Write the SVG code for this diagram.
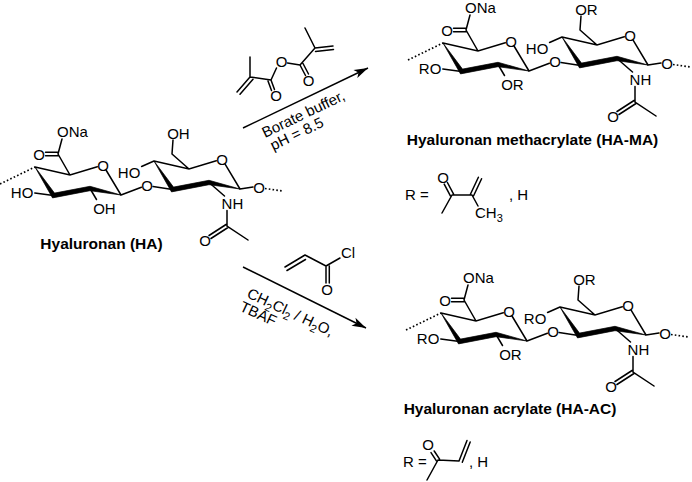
<svg xmlns="http://www.w3.org/2000/svg" width="692" height="482" viewBox="0 0 692 482">
<style>
.b{stroke:#000;stroke-width:1.5;fill:none;stroke-linecap:round}
.a{stroke:#000;stroke-width:1.5;fill:none}
.dot{stroke:#000;stroke-width:1.7;fill:none;stroke-dasharray:1.6 2.2}
.w{fill:#000;stroke:#000;stroke-width:0.7;stroke-linejoin:round}
text{font-family:"Liberation Sans",Arial,sans-serif;font-size:15px;fill:#000}
.ttl{font-weight:bold;font-size:15.5px}
.m{text-anchor:middle}
.e{text-anchor:end}
</style>
<defs>
<marker id="ah" markerWidth="16" markerHeight="12" refX="0" refY="0" viewBox="-15 -6 16 12" orient="auto" markerUnits="userSpaceOnUse"><path d="M0,0 L-14,-4.5 L-10.5,0 L-14,4.5 Z" fill="#000"/></marker>
<g id="sk">
<path class="dot" d="M0,184 L35,167"/>
<path class="b" d="M35,167 L70,175 L97.3,166.7 M106,170 L121,195 M70,175 L58,154 L62,139 M58,152.2 L45.5,152.2 M58,155.8 L45.5,155.8 M53.5,195.5 L34.8,193 M90,188.5 L96.5,199.5 M121,195 L141.4,187.2 M153,186.5 L172.5,189.5 M154,161 L189,169 L216.3,160.7 M225.1,164.1 L240,189 M141.6,166.5 L154,161 M189,169 L172,154 L173,140 M209,182.5 L224.5,196 M227,210.5 L227,226 L248,240 M227.97,227.5 L210.97,238.5 M226.03,224.5 L209.03,235.5 M240,189 L253,187"/>
<polygon class="w" points="35,167 54.5,193.1 90,186.3 121,195 90,190.7 52.5,197.9"/>
<polygon class="w" points="154,161 173.5,187.1 209,180.3 240,189 209,184.7 171.5,191.9"/>
<path class="dot" d="M265,188.5 L283,191"/>
<text x="57" y="136.5">ONa</text>
<text class="m" x="39" y="159.5">O</text>
<text class="m" x="103" y="170.5">O</text>
<text class="m" x="147" y="190.5">O</text>
<text class="m" x="222" y="164.5">O</text>
<text x="221.6" y="208.5">NH</text>
<text class="m" x="205" y="245.5">O</text>
<text class="m" x="259" y="192.5">O</text>
</g>
</defs>

<g id="ha">
<use href="#sk"/>
<text x="167.2" y="139">OH</text>
<text class="e" x="33.3" y="197.5">HO</text>
<text x="93.2" y="213.5">OH</text>
<text class="e" x="140.3" y="177.5">HO</text>
<text class="ttl m" x="101.5" y="248.5">Hyaluronan (HA)</text>
</g>

<g id="ha-ma">
<g transform="translate(408,-124)">
<use href="#sk"/>
<text x="167.2" y="139">OR</text>
<text class="e" x="33.3" y="197.5">RO</text>
<text x="93.2" y="213.5">OR</text>
<text class="e" x="140.3" y="177.5">HO</text>
</g>
<text class="ttl m" x="532.5" y="144.5">Hyaluronan methacrylate (HA-MA)</text>
</g>

<g id="r-ma">
<text x="405" y="200.4">R =</text>
<text class="m" x="443" y="183.4">O</text>
<path class="b" d="M453.6,194.2 L447.4,182.5 M450.4,195.8 L444.2,184.1 M452,195 L442,213 M452,195 L472,195 M473.6,195.8 L481.6,178.8 M470.4,194.2 L478.4,177.2 M472,195 L478,206"/>
<text x="475" y="218.4">CH<tspan dy="4" font-size="11">3</tspan></text>
<text x="509" y="200.4">, H</text>
</g>

<g id="ha-ac">
<g transform="translate(406,146)">
<use href="#sk"/>
<text x="167.2" y="139">OR</text>
<text class="e" x="33.3" y="197.5">RO</text>
<text x="93.2" y="213.5">OR</text>
<text class="e" x="140.3" y="177.5">RO</text>
</g>
<text class="ttl m" x="510" y="414">Hyaluronan acrylate (HA-AC)</text>
</g>

<g id="r-ac">
<text x="403" y="467">R =</text>
<text class="m" x="428" y="450.4">O</text>
<path class="b" d="M439.6,459.2 L434.2,451 M436.4,460.8 L431,452.6 M438,460 L427,480 M438,460 L459,461 M459,461 L467,440.5 M462.3,462.3 L470.2,442"/>
<text x="469" y="467">, H</text>
</g>

<g id="anhydride">
<path class="b" d="M237,92 L250,77 M240,94.3 L253,79.3 M250,77 L250,57 M250,77 L271,80 M271,80 L276.5,68 M271,80 L274.5,89.5 M268,81 L271.5,90.5 M287.5,63 L300,65 M300,65 L305.5,75.5 M303,63.5 L308.5,74 M300,65 L315,48 M315,48 L305,28 M315,48 L333,46 M315.5,51.5 L333.5,49.5"/>
<text class="m" x="276" y="101.4">O</text>
<text class="m" x="281.5" y="67.4">O</text>
<text class="m" x="308.5" y="86.4">O</text>
</g>

<g id="acryloyl">
<path class="b" d="M285,267 L305,255 M287,270.5 L305.5,259.5 M305,255 L326,266 M326,266 L340,258 M326,266 L326,283 M329.3,266 L329.3,283"/>
<text x="341" y="258.4">Cl</text>
<text class="m" x="327" y="295.4">O</text>
</g>

<g id="arrows">
<path class="a" d="M243,128 L368,68" marker-end="url(#ah)"/>
<path class="a" d="M243,267 L366,328" marker-end="url(#ah)"/>
</g>

<g transform="translate(265,138) rotate(-25.6)">
<text x="0" y="0">Borate buffer,</text>
<text x="2" y="15">pH = 8.5</text>
</g>
<g transform="translate(246,297) rotate(25)">
<text x="0" y="0">CH<tspan dy="4" font-size="11">2</tspan><tspan dy="-4">Cl</tspan><tspan dy="4" font-size="11">2</tspan><tspan dy="-4"> / H</tspan><tspan dy="4" font-size="11">2</tspan><tspan dy="-4">O,</tspan></text>
<text x="-1" y="15">TBAF</text>
</g>
</svg>
